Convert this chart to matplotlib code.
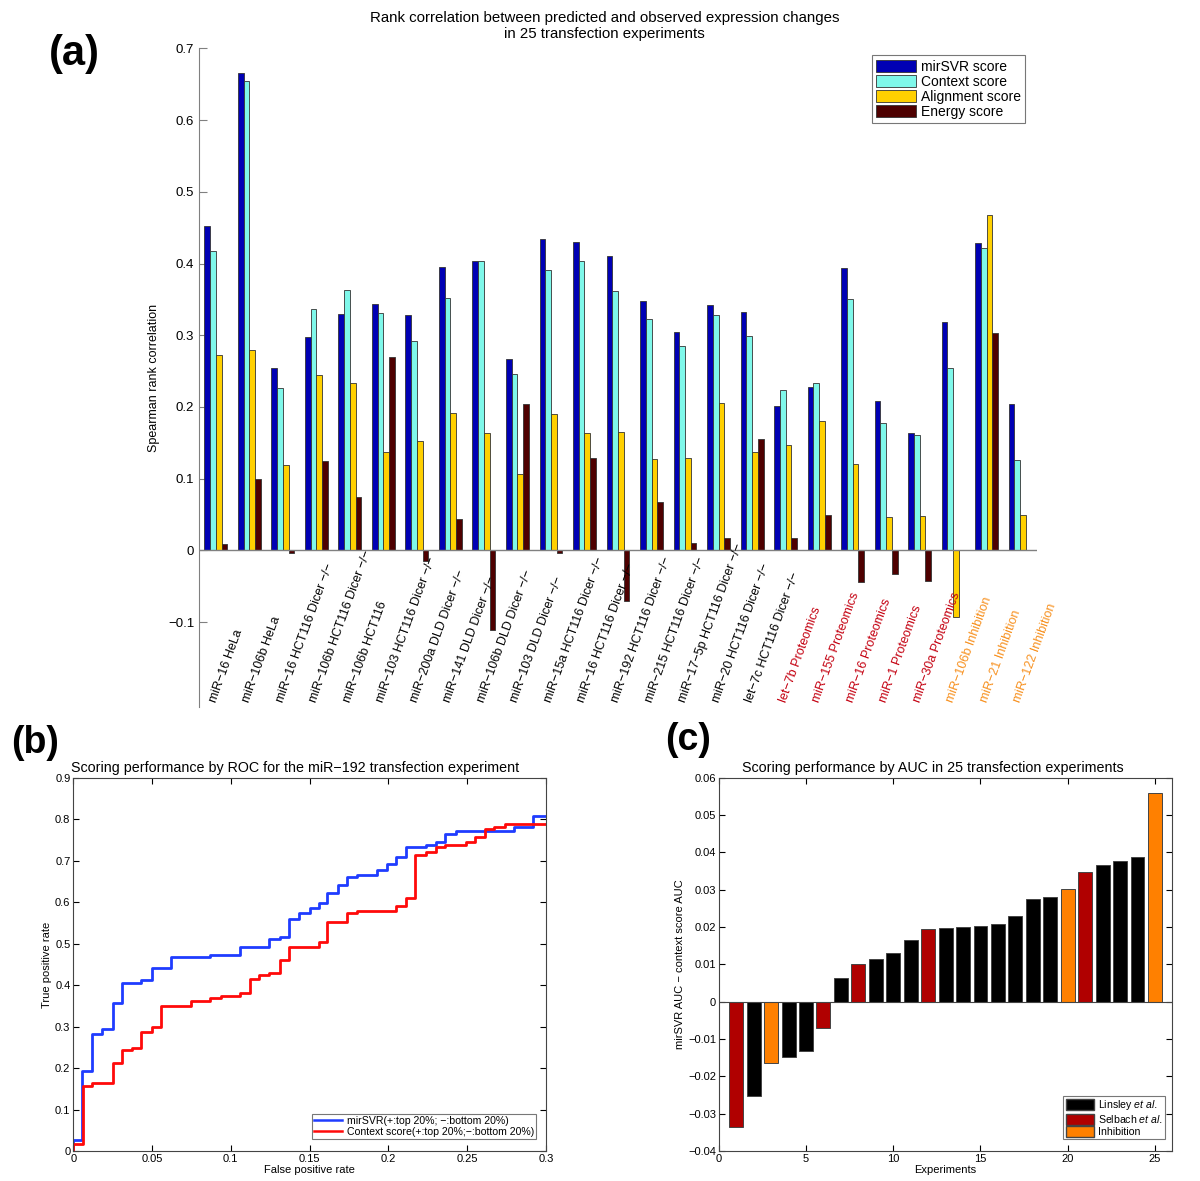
import numpy as np
import matplotlib
matplotlib.use("Agg")
import matplotlib.pyplot as plt
from matplotlib.patches import Patch
from matplotlib.lines import Line2D

plt.rcParams['font.family'] = ['Liberation Sans', 'DejaVu Sans']
plt.rcParams['mathtext.fontset'] = 'custom'
plt.rcParams['mathtext.it'] = 'Liberation Sans:italic'
plt.rcParams['axes.unicode_minus'] = True

M = "\u2212"

# ---- panel (a) data ----
experiments = [
    f"miR{M}16 HeLa", f"miR{M}106b HeLa", f"miR{M}16 HCT116 Dicer {M}/{M}",
    f"miR{M}106b HCT116 Dicer {M}/{M}", f"miR{M}106b HCT116",
    f"miR{M}103 HCT116 Dicer {M}/{M}", f"miR{M}200a DLD Dicer {M}/{M}",
    f"miR{M}141 DLD Dicer {M}/{M}", f"miR{M}106b DLD Dicer {M}/{M}",
    f"miR{M}103 DLD Dicer {M}/{M}", f"miR{M}15a HCT116 Dicer {M}/{M}",
    f"miR{M}16 HCT116 Dicer {M}/{M}", f"miR{M}192 HCT116 Dicer {M}/{M}",
    f"miR{M}215 HCT116 Dicer {M}/{M}", f"miR{M}17{M}5p HCT116 Dicer {M}/{M}",
    f"miR{M}20 HCT116 Dicer {M}/{M}", f"let{M}7c HCT116 Dicer {M}/{M}",
    f"let{M}7b Proteomics", f"miR{M}155 Proteomics", f"miR{M}16 Proteomics",
    f"miR{M}1 Proteomics", f"miR{M}30a Proteomics",
    f"miR{M}106b Inhibition", f"miR{M}21 Inhibition", f"miR{M}122 Inhibition",
]
experiment_type = ['transfection'] * 17 + ['proteomics'] * 5 + ['inhibition'] * 3

mirsvr = [0.453, 0.666, 0.255, 0.298, 0.330, 0.344, 0.328, 0.395, 0.403, 0.267,
          0.434, 0.430, 0.411, 0.348, 0.305, 0.342, 0.333, 0.202, 0.228, 0.394,
          0.208, 0.164, 0.318, 0.429, 0.204]
context = [0.418, 0.654, 0.226, 0.336, 0.363, 0.331, 0.292, 0.352, 0.404, 0.246,
           0.391, 0.403, 0.362, 0.322, 0.285, 0.328, 0.299, 0.223, 0.234, 0.351,
           0.178, 0.161, 0.254, 0.421, 0.126]
alignment = [0.273, 0.279, 0.119, 0.245, 0.233, 0.137, 0.153, 0.191, 0.164, 0.106,
             0.190, 0.164, 0.165, 0.128, 0.129, 0.205, 0.137, 0.147, 0.180, 0.121,
             0.047, 0.048, -0.093, 0.468, 0.050]
energy = [0.009, 0.099, -0.004, 0.125, 0.075, 0.270, -0.015, 0.044, -0.111, 0.204,
          -0.004, 0.129, -0.071, 0.068, 0.010, 0.017, 0.155, 0.017, 0.050, -0.044,
          -0.033, -0.043, 0.0, 0.303, 0.0]

# ---- panel (b) data: ROC step curves for miR-192 ----
svr_fpr = [0, 0, 0.0053, 0.012, 0.018, 0.025, 0.031, 0.043, 0.050, 0.062,
           0.087, 0.106, 0.124, 0.131, 0.137, 0.143, 0.150, 0.156, 0.161, 0.168,
           0.174, 0.180, 0.193, 0.199, 0.205, 0.211, 0.224, 0.230, 0.236, 0.243,
           0.280, 0.292, 0.300]
svr_tpr = [0, 0.026, 0.192, 0.281, 0.294, 0.356, 0.405, 0.412, 0.442, 0.467,
           0.472, 0.492, 0.511, 0.516, 0.559, 0.573, 0.585, 0.597, 0.623, 0.641,
           0.660, 0.665, 0.677, 0.691, 0.708, 0.734, 0.739, 0.746, 0.764, 0.772,
           0.782, 0.808, 0.808]
ctx_fpr = [0, 0, 0.006, 0.012, 0.025, 0.031, 0.037, 0.043, 0.050, 0.056,
           0.075, 0.087, 0.094, 0.106, 0.112, 0.118, 0.124, 0.131, 0.137, 0.156,
           0.161, 0.174, 0.180, 0.205, 0.211, 0.217, 0.224, 0.230, 0.236, 0.249,
           0.255, 0.261, 0.267, 0.274, 0.300]
ctx_tpr = [0, 0.018, 0.156, 0.163, 0.212, 0.243, 0.249, 0.286, 0.299, 0.349,
           0.361, 0.368, 0.373, 0.380, 0.416, 0.424, 0.430, 0.460, 0.491, 0.504,
           0.553, 0.573, 0.578, 0.590, 0.609, 0.715, 0.722, 0.734, 0.739, 0.746,
           0.758, 0.776, 0.782, 0.788, 0.788]

# ---- panel (c) data: AUC difference, sorted ----
auc_diff = [-0.0337, -0.0252, -0.0165, -0.0149, -0.0131, -0.0070, 0.0063, 0.0101,
            0.0114, 0.0130, 0.0165, 0.0195, 0.0197, 0.0200, 0.0204, 0.0209, 0.0231,
            0.0274, 0.0280, 0.0302, 0.0347, 0.0366, 0.0378, 0.0387, 0.0558]
auc_source = ['selbach', 'linsley', 'inhibition', 'linsley', 'linsley', 'selbach',
              'linsley', 'selbach', 'linsley', 'linsley', 'linsley', 'selbach',
              'linsley', 'linsley', 'linsley', 'linsley', 'linsley', 'linsley',
              'linsley', 'inhibition', 'selbach', 'linsley', 'linsley', 'linsley',
              'inhibition']

score_colors = ['#0000b4', '#7ff8ea', '#ffd000', '#4e0000']
label_colors = {'transfection': 'black', 'proteomics': '#c40010', 'inhibition': '#f7901e'}
source_colors = {'linsley': '#000000', 'selbach': '#b00000', 'inhibition': '#ff8000'}

fig = plt.figure(figsize=(12, 11.81), dpi=100)

# ================= (a) =================
ax = fig.add_axes([0.166, 0.401, 0.698, 0.558])
x = np.arange(1, len(experiments) + 1)
w = 0.1715
series = [mirsvr, context, alignment, energy]
names = ['mirSVR score', 'Context score', 'Alignment score', 'Energy score']
for k, (vals, c) in enumerate(zip(series, score_colors)):
    ax.bar(x + (k - 1.5) * w, vals, w, color=c, edgecolor='#333333', linewidth=0.6,
           label=names[k], zorder=2)
ax.axhline(0, color='#808080', lw=1.0, zorder=3)
ax.set_xlim(0.5, 25.5)
ax.set_ylim(-0.219, 0.7)
ax.set_yticks(np.arange(-0.1, 0.71, 0.1))
ax.set_yticklabels([f"{M}0.1", "0", "0.1", "0.2", "0.3", "0.4", "0.5", "0.6", "0.7"])
ax.set_xticks([])
for s in ['top', 'right', 'bottom']:
    ax.spines[s].set_visible(False)
ax.spines['left'].set_color('#808080')
ax.tick_params(axis='y', direction='in', length=6, labelsize=9.5, color='#808080')
ax.set_ylabel('Spearman rank correlation', fontsize=9, labelpad=6)
ax.set_title('Rank correlation between predicted and observed expression changes\n'
             'in 25 transfection experiments', fontsize=10.8, x=0.484, y=1.003)
for xi, lab, t in zip(x, experiments, experiment_type):
    ax.text(xi, -0.213, lab, rotation=70, rotation_mode='anchor', ha='left',
            va='baseline', fontsize=9, color=label_colors[t])
leg = ax.legend(loc='upper right', bbox_to_anchor=(0.9945, 1.0), fontsize=10,
                handlelength=2.9, handleheight=0.95, labelspacing=0.08,
                borderpad=0.3, handletextpad=0.35, fancybox=False, edgecolor='#555555')
leg.get_frame().set_linewidth(0.8)
fig.text(0.062, 0.954, '(a)', fontsize=30, fontweight='bold', ha='center', va='center')

# ================= (b) =================
axb = fig.add_axes([0.061, 0.0254, 0.394, 0.316])
axb.step(svr_fpr, svr_tpr, where='post', color='#1f3cff', lw=2.0)
axb.step(ctx_fpr, ctx_tpr, where='post', color='#ff0a0a', lw=2.0)
axb.set_xlim(0, 0.3)
axb.set_ylim(0, 0.9)
axb.set_xticks(np.arange(0, 0.301, 0.05))
axb.set_xticklabels(["0", "0.05", "0.1", "0.15", "0.2", "0.25", "0.3"])
axb.set_yticks(np.arange(0, 0.91, 0.1))
axb.set_yticklabels(["0", "0.1", "0.2", "0.3", "0.4", "0.5", "0.6", "0.7", "0.8", "0.9"])
axb.tick_params(direction='in', top=True, right=True, labelsize=8, length=4, pad=2)
axb.set_xlabel('False positive rate', fontsize=8, labelpad=1)
axb.set_ylabel('True positive rate', fontsize=8, labelpad=2)
axb.set_title('Scoring performance by ROC for the miR' + M + '192 transfection experiment',
              fontsize=10.3, pad=4, x=0.47)
for s in axb.spines.values():
    s.set_linewidth(0.8)
    s.set_color('#444444')
roc_handles = [Line2D([], [], color='#1f3cff', lw=1.8),
               Line2D([], [], color='#ff0a0a', lw=1.8)]
legb = axb.legend(roc_handles, [f'mirSVR(+:top 20%; {M}:bottom 20%)',
                                f'Context score(+:top 20%;{M}:bottom 20%)'],
                  loc='lower right', bbox_to_anchor=(0.99, 0.018), fontsize=7.6,
                  handlelength=2.7, labelspacing=0.1, borderpad=0.2,
                  handletextpad=0.4, fancybox=False, edgecolor='#555555')
legb.get_frame().set_linewidth(0.8)
fig.text(0.029, 0.371, '(b)', fontsize=27, fontweight='bold', ha='center', va='center')

# ================= (c) =================
axc = fig.add_axes([0.599, 0.0254, 0.378, 0.316])
xc = np.arange(1, len(auc_diff) + 1)
axc.bar(xc, auc_diff, 0.8, color=[source_colors[s] for s in auc_source],
        edgecolor='#444444', linewidth=0.7, zorder=2)
axc.axhline(0, color='#444444', lw=0.8, zorder=3)
axc.set_xlim(0, 26)
axc.set_ylim(-0.04, 0.06)
axc.set_xticks(np.arange(0, 26, 5))
axc.set_yticks(np.arange(-0.04, 0.061, 0.01))
axc.set_yticklabels([f"{M}0.04", f"{M}0.03", f"{M}0.02", f"{M}0.01", "0",
                     "0.01", "0.02", "0.03", "0.04", "0.05", "0.06"])
axc.tick_params(direction='in', top=True, right=True, labelsize=8, length=4, pad=2)
axc.set_xlabel('Experiments', fontsize=8, labelpad=1)
axc.set_ylabel(f'mirSVR AUC {M} context score AUC', fontsize=8, labelpad=2)
axc.set_title('Scoring performance by AUC in 25 transfection experiments',
              fontsize=10.3, pad=4, x=0.471)
for s in axc.spines.values():
    s.set_linewidth(0.8)
    s.set_color('#444444')
src_handles = [Patch(facecolor=source_colors[k], edgecolor='#444444')
               for k in ['linsley', 'selbach', 'inhibition']]
legc = axc.legend(src_handles, [r'Linsley $\mathit{et\ al.}$',
                                r'Selbach $\mathit{et\ al.}$', 'Inhibition'],
                  loc='lower right', bbox_to_anchor=(0.996, 0.018), fontsize=7.6,
                  handlelength=2.7, handleheight=1.25, labelspacing=0.08,
                  borderpad=0.2, handletextpad=0.4, fancybox=False,
                  edgecolor='#555555')
legc.get_frame().set_linewidth(0.8)
fig.text(0.573, 0.373, '(c)', fontsize=27, fontweight='bold', ha='center', va='center')

fig.savefig('out.png', dpi=100)
